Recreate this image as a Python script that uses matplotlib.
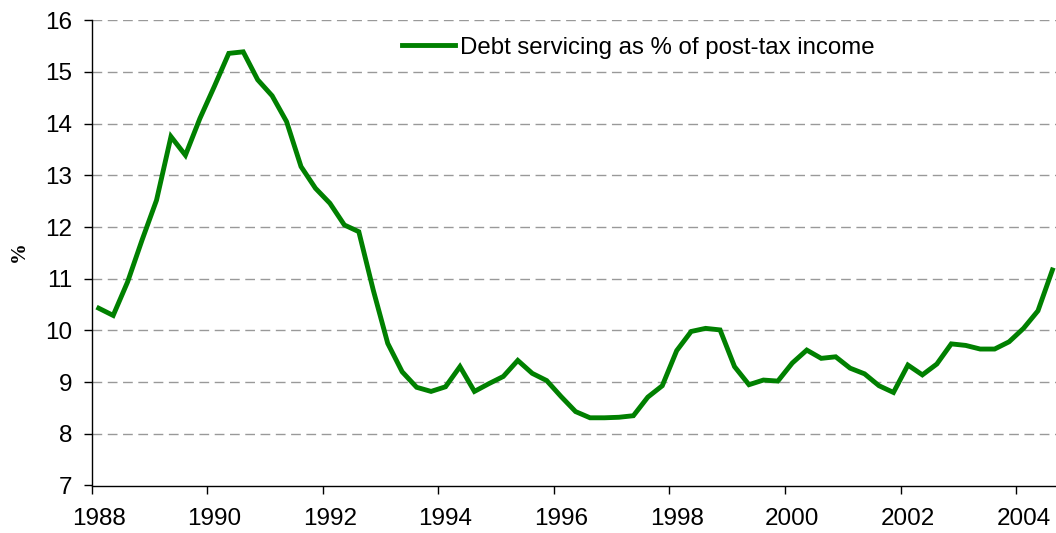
import matplotlib.pyplot as plt
import numpy as np

# quarterly, 1988 Q1 .. 2004 Q3
start_year = 1988
debt_servicing = [
    10.43, 10.29, 10.94, 11.75, 12.52, 13.75, 13.39, 14.1, 14.72, 15.36,
    15.39, 14.85, 14.54, 14.04, 13.17, 12.75, 12.46, 12.04, 11.91, 10.78,
    9.75, 9.20, 8.90, 8.82, 8.91, 9.30, 8.82, 8.97, 9.11, 9.42,
    9.17, 9.03, 8.72, 8.43, 8.31, 8.31, 8.32, 8.35, 8.71, 8.93,
    9.61, 9.98, 10.04, 10.01, 9.30, 8.95, 9.04, 9.02, 9.37, 9.62,
    9.46, 9.49, 9.27, 9.16, 8.93, 8.80, 9.33, 9.14, 9.35, 9.74,
    9.71, 9.64, 9.64, 9.78, 10.04, 10.38, 11.17,
]
year_labels = [1988, 1990, 1992, 1994, 1996, 1998, 2000, 2002, 2004]
y_ticks = [7, 8, 9, 10, 11, 12, 13, 14, 15, 16]

x = start_year + np.arange(len(debt_servicing)) * 0.25

plt.rcParams["font.family"] = ["Liberation Sans", "DejaVu Sans"]
fig = plt.figure(figsize=(10.56, 5.33), dpi=100)
ax = fig.add_axes([91.5 / 1056, 47.5 / 533, (1056 - 91.5) / 1056, (485.5 - 20.3) / 533])

ax.plot(x, debt_servicing, color="#008000", linewidth=3.5,
        label="Debt servicing as % of post-tax income", solid_joinstyle="miter")

ax.set_xlim(start_year - 0.125, 2004.562)
ax.set_ylim(7, 16)
ax.set_yticks(y_ticks)

# tick marks sit between quarters, labels sit on the first quarter of each year
ax.set_xticks([y - 0.125 for y in year_labels])
ax.set_xticklabels([])
ax.set_xticks(year_labels, minor=True)
ax.set_xticklabels([str(y) for y in year_labels], minor=True)
ax.tick_params(axis="x", which="major", direction="out", length=6, width=1)
ax.tick_params(axis="x", which="minor", length=0, pad=16, labelsize=17.5)
ax.tick_params(axis="y", direction="out", length=6, width=1, pad=8, labelsize=17.5)

for v in y_ticks[1:]:
    ax.axhline(v, color="#999999", linewidth=1, linestyle=(0, (7, 4)), zorder=0)

ax.spines["top"].set_visible(False)
ax.spines["right"].set_visible(False)
ax.spines["left"].set_linewidth(1)
ax.spines["bottom"].set_linewidth(1)

fig.text(19 / 1056, 1 - 252 / 533, "%", rotation=90, ha="center", va="center",
         fontsize=15, fontweight="bold", family=["Liberation Serif", "DejaVu Serif"])

fig.legend(loc="center left", bbox_to_anchor=(402 / 1056, 1 - 47.7 / 533),
           frameon=False, fontsize=17.3, handlelength=2.2, handletextpad=0.2,
           borderpad=0, borderaxespad=0)

fig.savefig("out.png", dpi=100)
